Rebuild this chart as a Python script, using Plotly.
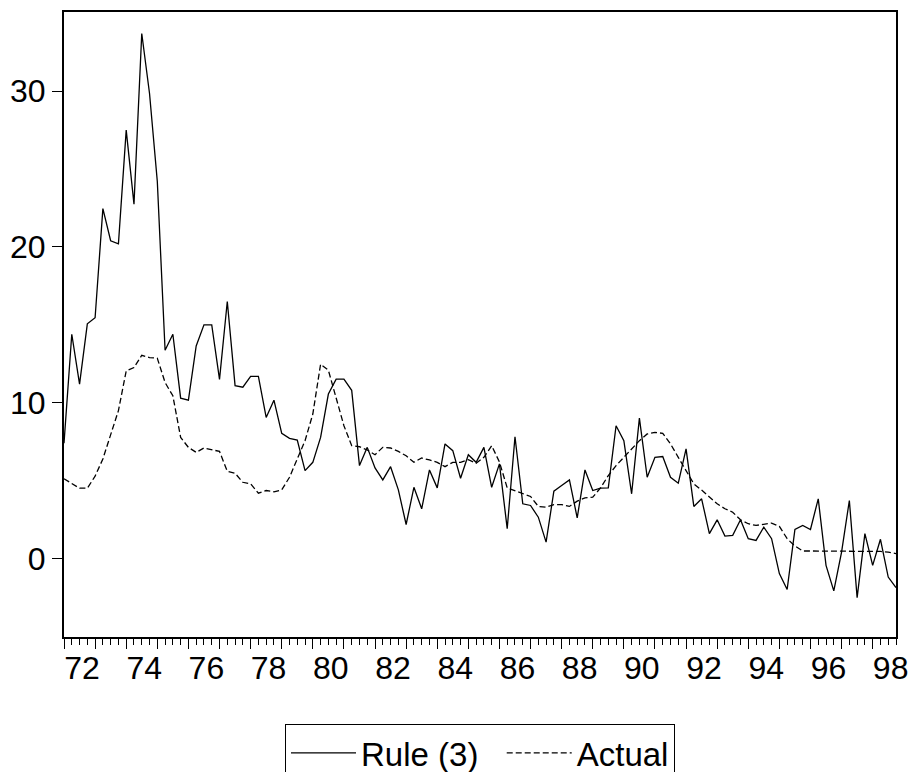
import plotly.graph_objects as go

start_year = 1972.0
quarter = 0.25

rule3 = [7.4, 14.4, 11.2, 15.07, 15.46, 22.46, 20.4, 20.2, 27.5, 22.75,
         33.7, 29.85, 24.2, 13.37, 14.4, 10.3, 10.17, 13.65, 15.0, 15.0,
         11.5, 16.5, 11.1, 11.0, 11.7, 11.7, 9.06, 10.17, 8.04, 7.72,
         7.61, 5.65, 6.18, 7.78, 10.56, 11.52, 11.52, 10.8, 5.97, 7.14,
         5.82, 5.05, 5.9, 4.41, 2.19, 4.58, 3.2, 5.69, 4.54, 7.36,
         6.93, 5.16, 6.67, 6.18, 7.14, 4.58, 6.08, 1.92, 7.82, 3.52,
         3.41, 2.66, 1.06, 4.33, 4.69, 5.05, 2.62, 5.69, 4.37, 4.52,
         4.54, 8.53, 7.57, 4.16, 9.02, 5.22, 6.5, 6.55, 5.22, 4.84,
         7.04, 3.35, 3.84, 1.6, 2.49, 1.45, 1.49, 2.49, 1.28, 1.17,
         2.02, 1.28, -0.96, -1.98, 1.87, 2.13, 1.87, 3.84, -0.43, -2.07,
         0.42, 3.73, -2.5, 1.6, -0.43, 1.24, -1.18, -1.86]

actual = [5.12, 4.84, 4.52, 4.52, 5.29, 6.4, 8.0, 9.5, 12.05, 12.26,
          13.05, 12.9, 12.86, 11.3, 10.45, 7.78, 7.14, 6.82, 7.1, 6.97,
          6.88, 5.6, 5.48, 4.9, 4.8, 4.2, 4.37, 4.29, 4.41, 5.22,
          6.4, 7.57, 9.28, 12.48, 12.09, 10.24, 8.53, 7.25, 7.18, 6.97,
          6.67, 7.14, 7.1, 6.88, 6.6, 6.18, 6.46, 6.33, 6.18, 5.9,
          6.18, 6.18, 6.35, 6.12, 6.5, 7.25, 6.2, 4.54, 4.37, 4.16,
          3.99, 3.35, 3.3, 3.47, 3.47, 3.35, 3.69, 3.9, 3.94, 4.54,
          5.33, 5.97, 6.5, 7.04, 7.57, 8.0, 8.1, 8.04, 7.36, 6.5,
          5.65, 4.8, 4.4, 3.94, 3.52, 3.2, 2.98, 2.49, 2.24, 2.13,
          2.19, 2.28, 2.07, 1.28, 0.81, 0.49, 0.49, 0.49, 0.49, 0.49,
          0.49, 0.49, 0.49, 0.49, 0.49, 0.46, 0.42, 0.32]

x = [start_year + i * quarter for i in range(len(rule3))]

year_ticks = list(range(1972, 1999))
year_text = [str(y)[2:] if (y - 1972) % 2 == 0 else "" for y in year_ticks]
y_ticks = [0, 10, 20, 30]

FONT = "Liberation Sans, Arial, sans-serif"

fig = go.Figure()
fig.add_trace(go.Scatter(x=x, y=rule3, mode="lines", name="Rule (3)\u00a0\u00a0",
                         line=dict(color="black", width=1.3)))
fig.add_trace(go.Scatter(x=x, y=actual, mode="lines", name="Actual",
                         line=dict(color="black", width=1.3, dash="6px,3px")))

fig.update_layout(
    width=918, height=772,
    margin=dict(l=64, r=19, t=10, b=135),
    paper_bgcolor="white", plot_bgcolor="white",
    font=dict(family=FONT, size=32, color="black"),
    showlegend=True,
    legend=dict(orientation="h", x=0.5, xanchor="center", xref="paper",
                y=1 - 724 / 772, yanchor="top", yref="container",
                bordercolor="black", borderwidth=1, bgcolor="white",
                font=dict(size=33), itemwidth=65, tracegroupgap=0),
    xaxis=dict(range=[x[0], x[-1]], showgrid=False, zeroline=False,
               showline=True, linecolor="black", linewidth=2, mirror=True,
               tickmode="array", tickvals=year_ticks, ticktext=year_text,
               ticks="outside", ticklen=10, tickwidth=1, tickcolor="black",
               ticklabelshift=18, ticklabelstandoff=-8,
               minor=dict(tickmode="linear", tick0=start_year, dtick=quarter,
                          ticks="outside", ticklen=6, tickwidth=1, tickcolor="black",
                          showgrid=False)),
    yaxis=dict(range=[-5.03, 35.08], showgrid=False, zeroline=False,
               showline=True, linecolor="black", linewidth=2, mirror=True,
               tickmode="array", tickvals=y_ticks,
               ticks="outside", ticklen=10, tickwidth=1, tickcolor="black"),
)

fig.write_html("out.html")
